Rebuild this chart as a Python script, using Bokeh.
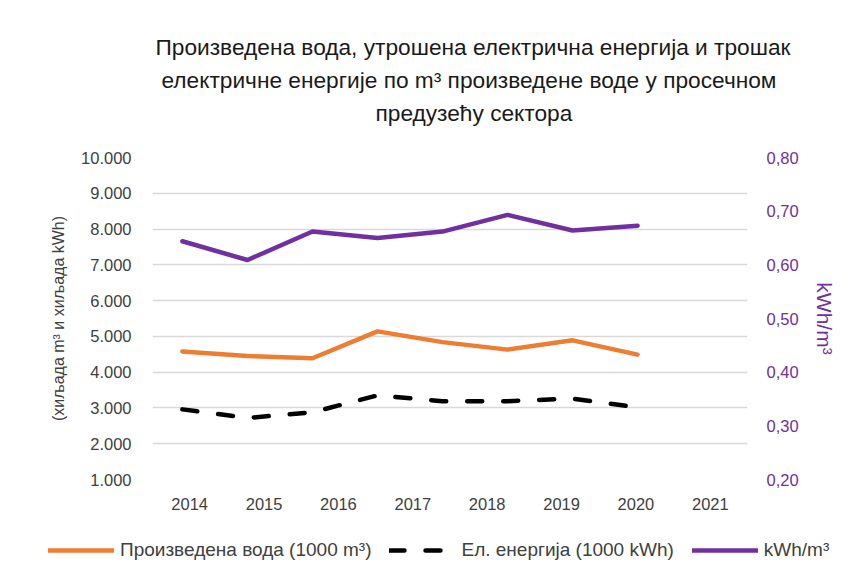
from bokeh.plotting import figure
from bokeh.layouts import column
from bokeh.models import (Range1d, LinearAxis, FixedTicker, Legend,
                          LegendItem, Title, ColumnDataSource)
from bokeh.embed import file_html
from bokeh.resources import INLINE

# ---- data ----
years = [2014, 2015, 2016, 2017, 2018, 2019, 2020, 2021]
year_labels = [str(y) for y in years]
water = [4580, 4450, 4390, 5140, 4840, 4630, 4890, 4490]        # 1000 m3
elec = [2960, 2720, 2880, 3350, 3190, 3190, 3260, 3020]         # 1000 kWh
kwh_per_m3 = [0.644, 0.609, 0.662, 0.650, 0.662, 0.693, 0.664, 0.673]

y_ticks = [1000, 2000, 3000, 4000, 5000, 6000, 7000, 8000, 9000, 10000]
y_tick_labels = ["1.000", "2.000", "3.000", "4.000", "5.000", "6.000",
                 "7.000", "8.000", "9.000", "10.000"]
y2_ticks = [0.2, 0.3, 0.4, 0.5, 0.6, 0.7, 0.8]
y2_tick_labels = ["0,20", "0,30", "0,40", "0,50", "0,60", "0,70", "0,80"]

title_lines = [
    "Произведена вода, утрошена електрична енергија и трошак",
    "електричне енергије по m³ произведене воде у просечном",
    "предузећу сектора",
]
left_label = "(хиљада m³ и хиљада kWh)"
right_label = "kWh/m³"
legend_labels = ["Произведена вода (1000 m³)", "Ел. енергија (1000 kWh)", "kWh/m³"]

FONT = "Liberation Sans"
ORANGE = "#ED7D31"
PURPLE = "#7030A0"
TXT = "#404040"

src = ColumnDataSource(dict(year=years, water=water, elec=elec, kwh=kwh_per_m3))

# primary x range: category slots of the visible axis; lines use a secondary
# (hidden) axis range, as in the original chart
p = figure(width=852, height=518, x_range=Range1d(2013.5, 2021.5),
           y_range=Range1d(1000, 10000), output_backend="svg", toolbar_location=None,
           min_border_left=152, min_border_right=105, min_border_top=157,
           min_border_bottom=39)
p.extra_x_ranges = {"x2": Range1d(2013.54, 2022.69)}
p.extra_y_ranges = {"y2": Range1d(0.2, 0.8)}
p.outline_line_color = None
p.background_fill_color = "white"
p.border_fill_color = "white"

# grid
p.xgrid.grid_line_color = None
p.ygrid.ticker = FixedTicker(ticks=y_ticks)
p.ygrid.grid_line_color = "#D9D9D9"
p.ygrid.grid_line_width = 1.5

# x axis
xa = p.xaxis[0]
xa.ticker = FixedTicker(ticks=years)
xa.major_label_overrides = dict(zip(years, year_labels))
xa.axis_line_color = None
xa.major_tick_line_color = None
xa.minor_tick_line_color = None
xa.major_label_standoff = 12
xa.major_label_text_font = FONT
xa.major_label_text_font_size = "16.5px"
xa.major_label_text_color = TXT

# left axis
ya = p.yaxis[0]
ya.ticker = FixedTicker(ticks=y_ticks)
ya.major_label_overrides = dict(zip(y_ticks, y_tick_labels))
ya.axis_line_color = None
ya.major_tick_line_color = None
ya.minor_tick_line_color = None
ya.major_label_standoff = 15
ya.major_label_text_font = FONT
ya.major_label_text_font_size = "16.5px"
ya.major_label_text_color = TXT
ya.axis_label = left_label
ya.axis_label_text_font = FONT
ya.axis_label_text_font_size = "16px"
ya.axis_label_text_font_style = "normal"
ya.axis_label_text_color = TXT
ya.axis_label_standoff = 11

# right axis
ra = LinearAxis(y_range_name="y2", ticker=FixedTicker(ticks=y2_ticks),
                major_label_overrides=dict(zip(y2_ticks, y2_tick_labels)))
ra.axis_line_color = None
ra.major_tick_line_color = None
ra.minor_tick_line_color = None
ra.major_label_standoff = 13
ra.major_label_text_font = FONT
ra.major_label_text_font_size = "16.5px"
ra.major_label_text_color = PURPLE
ra.axis_label = right_label
ra.axis_label_text_font = FONT
ra.axis_label_text_font_size = "21px"
ra.axis_label_text_font_style = "normal"
ra.axis_label_text_color = PURPLE
ra.axis_label_standoff = 11
p.add_layout(ra, "right")

# lines
LINE_STYLES = [dict(line_color=ORANGE),
               dict(line_color="black", line_dash="15 21"),
               dict(line_color=PURPLE)]
r_water = p.line(x="year", y="water", source=src, x_range_name="x2", line_width=4.5,
                 line_join="round", line_cap="round", **LINE_STYLES[0])
r_elec = p.line(x="year", y="elec", source=src, x_range_name="x2", line_width=4.5,
                line_join="round", line_cap="round", **LINE_STYLES[1])
r_kwh = p.line(x="year", y="kwh", source=src, x_range_name="x2", y_range_name="y2",
               line_width=4.5, line_join="round", line_cap="round", **LINE_STYLES[2])

# title: spacer nearest the frame, then lines from bottom to top
p.add_layout(Title(text=" ", text_font_size="1px", standoff=26), "above")
title_offsets = [3, 9, 223]
for txt, off in reversed(list(zip(title_lines, title_offsets))):
    p.add_layout(Title(text=txt, align="left", offset=off, standoff=4.5,
                       text_font=FONT, text_font_size="22.7px",
                       text_font_style="normal", text_color="#1a1a1a"), "above")

# legend strip below the chart (same series, drawn out of view there)
lg = figure(width=852, height=62, x_range=Range1d(0, 1), y_range=Range1d(0, 1),
            output_backend="svg", toolbar_location=None,
            x_axis_location=None, y_axis_location=None,
            min_border_left=0, min_border_right=0, min_border_top=0, min_border_bottom=0)
lg.outline_line_color = None
lg.xgrid.grid_line_color = None
lg.ygrid.grid_line_color = None
# keep the strip's frame full width (do not align it with the chart's frame)
for fig in (p, lg):
    if "frame_align" in fig.properties():
        fig.frame_align = False

l_water = lg.line(x="year", y="water", source=src, line_width=4.5,
                  line_cap="round", **LINE_STYLES[0])
l_elec = lg.line(x="year", y="elec", source=src, line_width=4.5,
                 line_cap="round", **LINE_STYLES[1])
l_kwh = lg.line(x="year", y="kwh", source=src, line_width=4.5,
                line_cap="round", **LINE_STYLES[2])
legend = Legend(items=[LegendItem(label=legend_labels[0], renderers=[l_water]),
                       LegendItem(label=legend_labels[1], renderers=[l_elec]),
                       LegendItem(label=legend_labels[2], renderers=[l_kwh])],
                location=(48, 19), orientation="horizontal",
                glyph_width=66, glyph_height=22, label_height=22,
                label_standoff=6, spacing=18, padding=0, margin=0,
                label_text_font=FONT, label_text_font_size="19px",
                label_text_color=TXT, border_line_color=None,
                background_fill_alpha=0)
lg.add_layout(legend)

open("out.html", "w").write(file_html(column(p, lg, spacing=0), INLINE))
